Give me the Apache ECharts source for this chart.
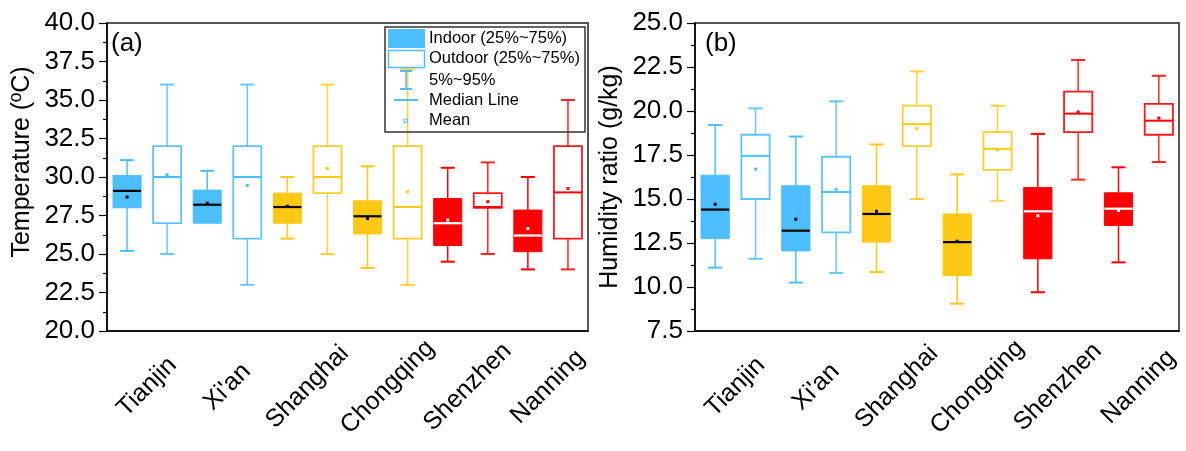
<!DOCTYPE html>
<html><head><meta charset="utf-8">
<script src="https://cdn.jsdelivr.net/npm/echarts@6/dist/echarts.min.js"></script>
<style>html,body{margin:0;padding:0;background:#fff}#c{width:1186px;height:451px}</style>
</head><body><div id="c"></div>
<script>
const cities = ['Tianjin', "Xi'an", 'Shanghai', 'Chongqing', 'Shenzhen', 'Nanning'];
// each row: [p5, p25, median, p75, p95, mean]
const tempIndoor = [
  [25.2, 28.0, 29.1, 30.1, 31.1, 28.7],
  [27.0, 27.0, 28.2, 29.15, 30.4, 28.3],
  [26.0, 27.0, 28.05, 28.95, 30.0, 28.1],
  [24.1, 26.3, 27.45, 28.45, 30.7, 27.3],
  [24.5, 25.55, 27.0, 28.6, 30.6, 27.2],
  [24.0, 25.15, 26.2, 27.85, 30.0, 26.65]
];
const tempOutdoor = [
  [25.0, 27.0, 30.0, 32.0, 36.0, 30.15],
  [23.0, 26.0, 30.0, 32.0, 36.0, 29.45],
  [25.0, 28.95, 30.0, 32.0, 36.0, 30.55],
  [23.0, 26.0, 28.05, 32.0, 37.0, 29.05],
  [25.0, 28.0, 28.05, 28.95, 30.95, 28.4],
  [24.0, 26.0, 29.0, 32.0, 35.0, 29.25]
];
const humIndoor = [
  [11.1, 12.75, 14.4, 16.35, 19.2, 14.7],
  [10.25, 12.05, 13.2, 15.75, 18.55, 13.85],
  [10.85, 12.55, 14.15, 15.75, 18.1, 14.3],
  [9.05, 10.65, 12.55, 14.15, 16.4, 12.6],
  [9.7, 11.6, 14.3, 15.65, 18.7, 14.05],
  [11.4, 13.5, 14.45, 15.35, 16.8, 14.35]
];
const humOutdoor = [
  [11.6, 15.0, 17.45, 18.65, 20.15, 16.7],
  [10.8, 13.1, 15.4, 17.4, 20.55, 15.55],
  [15.0, 18.0, 19.25, 20.3, 22.25, 19.0],
  [14.9, 16.65, 17.85, 18.8, 20.3, 17.8],
  [16.1, 18.8, 19.85, 21.1, 22.9, 19.95],
  [17.1, 18.65, 19.45, 20.4, 22.0, 19.6]
];
const tempAxis = {min: 20, max: 40, step: 2.5};
const humAxis = {min: 7.5, max: 25, step: 2.5};
const legendLabels = ['Indoor (25%~75%)', 'Outdoor (25%~75%)', '5%~95%', 'Median Line', 'Mean'];

const BLUE = '#4DBEFF', YELLOW = '#FFC814', RED = '#FF0000';
const cityColor = [BLUE, BLUE, YELLOW, YELLOW, RED, RED];
const FONT = '"Liberation Sans", Arial, sans-serif';

function makeRender(side, filled) {
  return function (params, api) {
    const i = api.value(0);
    const slot = api.size([1, 0])[0];
    const cx = api.coord([i, api.value(3)])[0] + side * slot / 4;
    const bw = slot * 0.35;
    const cap = bw * 0.5;
    const y = k => api.coord([i, api.value(k)])[1];
    const y5 = y(1), y25 = y(2), ym = y(3), y75 = y(4), y95 = y(5), ymean = y(6);
    const col = cityColor[i];
    const isRed = col === RED;
    const ls = {stroke: col, lineWidth: 1.5, opacity: filled ? 1 : 0.85};
    const ch = [];
    if (y5 - y25 > 0.5) {
      ch.push({type: 'line', shape: {x1: cx, y1: y25, x2: cx, y2: y5}, style: ls});
      ch.push({type: 'line', shape: {x1: cx - cap / 2, y1: y5, x2: cx + cap / 2, y2: y5}, style: Object.assign({}, ls, {lineWidth: 2})});
    }
    if (y75 - y95 > 0.5) {
      ch.push({type: 'line', shape: {x1: cx, y1: y95, x2: cx, y2: y75}, style: ls});
      ch.push({type: 'line', shape: {x1: cx - cap / 2, y1: y95, x2: cx + cap / 2, y2: y95}, style: Object.assign({}, ls, {lineWidth: 2})});
    }
    if (filled) {
      ch.push({type: 'rect', shape: {x: cx - bw / 2, y: y75, width: bw, height: y25 - y75},
        style: {fill: col, stroke: col, lineWidth: 1}});
    } else {
      ch.push({type: 'rect', shape: {x: cx - bw / 2, y: y75, width: bw, height: y25 - y75},
        style: {fill: 'none', stroke: col, lineWidth: 1.8, opacity: 0.9}});
    }
    const medCol = filled ? (isRed ? '#ffffff' : '#000000') : col;
    ch.push({type: 'line', shape: {x1: cx - bw / 2, y1: ym, x2: cx + bw / 2, y2: ym},
      style: {stroke: medCol, lineWidth: filled ? 2.2 : 2}});
    const mCol = filled ? (isRed ? '#ffffff' : '#000000') : col;
    ch.push({type: 'rect', shape: {x: cx - 1.5, y: ymean - 1.5, width: 3, height: 3},
      style: {fill: mCol}});
    return {type: 'group', children: ch};
  };
}

function toData(rows) { return rows.map((r, i) => [i].concat(r)); }

function yAxisDef(gi, ax, name, pad) {
  return {
    type: 'value', gridIndex: gi, min: ax.min, max: ax.max, interval: ax.step,
    name: name, nameLocation: 'middle', nameGap: 72,
    nameTextStyle: {fontFamily: FONT, fontSize: 25, color: '#000', padding: pad},
    axisLine: {show: true, lineStyle: {color: '#000', width: 1.5}},
    axisTick: {show: true, inside: false, length: 8, lineStyle: {color: '#000', width: 1.2}},
    minorTick: {show: true, splitNumber: 2, length: 4, lineStyle: {color: '#000', width: 1.2}},
    splitLine: {show: false},
    axisLabel: {fontFamily: FONT, fontSize: 26, color: '#000', margin: 12,
      formatter: v => v.toFixed(1)}
  };
}
function xAxisDef(gi) {
  return {
    type: 'category', gridIndex: gi, data: cities, boundaryGap: true,
    axisLine: {show: true, lineStyle: {color: '#000', width: 1.5}},
    axisTick: {show: false},
    splitLine: {show: false},
    axisLabel: {fontFamily: FONT, fontSize: 25, color: '#000', rotate: 45,
      align: 'center', verticalAlign: 'middle', margin: 56, interval: 0}
  };
}

const legendGraphics = [];
(function () {
  const lx = 385, ly = 27;
  legendGraphics.push({type: 'rect', shape: {x: lx, y: ly, width: 200, height: 105},
    style: {fill: 'none', stroke: '#333', lineWidth: 1.5}, z: 100});
  legendGraphics.push({type: 'rect', shape: {x: 388, y: 29, width: 37, height: 19}, style: {fill: BLUE}, z: 100});
  legendGraphics.push({type: 'rect', shape: {x: 388.5, y: 50.5, width: 36, height: 17},
    style: {fill: 'none', stroke: BLUE, lineWidth: 1.5}, z: 100});
  legendGraphics.push({type: 'line', shape: {x1: 406, y1: 71, x2: 406, y2: 89}, style: {stroke: BLUE, lineWidth: 1.5}, z: 100});
  legendGraphics.push({type: 'line', shape: {x1: 400, y1: 71, x2: 412, y2: 71}, style: {stroke: BLUE, lineWidth: 2}, z: 100});
  legendGraphics.push({type: 'line', shape: {x1: 400, y1: 89, x2: 412, y2: 89}, style: {stroke: BLUE, lineWidth: 2}, z: 100});
  legendGraphics.push({type: 'line', shape: {x1: 394, y1: 100, x2: 418, y2: 100}, style: {stroke: BLUE, lineWidth: 2}, z: 100});
  legendGraphics.push({type: 'rect', shape: {x: 404, y: 119, width: 3.5, height: 3.5},
    style: {fill: '#fff', stroke: BLUE, lineWidth: 1}, z: 100});
  const ys = [38, 58.5, 80, 100, 120.5];
  legendLabels.forEach((t, k) => legendGraphics.push({
    type: 'text', x: 429, y: ys[k], z: 100,
    style: {text: t, fontFamily: FONT, fontSize: 16.5, fill: '#000', verticalAlign: 'middle', align: 'left'}
  }));
})();

const chart = echarts.init(document.getElementById('c'), null, {renderer: 'canvas'});
chart.setOption({
  backgroundColor: '#fff',
  animation: false,
  grid: [
    {left: 107, top: 23, width: 481, height: 308, show: true, borderColor: '#555', borderWidth: 2, backgroundColor: 'transparent'},
    {left: 695, top: 23, width: 484, height: 308, show: true, borderColor: '#555', borderWidth: 2, backgroundColor: 'transparent'}
  ],
  xAxis: [xAxisDef(0), xAxisDef(1)],
  yAxis: [yAxisDef(0, tempAxis, 'Temperature (ºC)', [0, 0, 0, 30]), yAxisDef(1, humAxis, 'Humidity ratio (g/kg)', [0, 0, 0, 0])],
  series: [
    {type: 'custom', name: 'Indoor T', xAxisIndex: 0, yAxisIndex: 0, renderItem: makeRender(-1, true), data: toData(tempIndoor), encode: {x: 0, y: [1, 2, 3, 4, 5, 6]}},
    {type: 'custom', name: 'Outdoor T', xAxisIndex: 0, yAxisIndex: 0, renderItem: makeRender(1, false), data: toData(tempOutdoor), encode: {x: 0, y: [1, 2, 3, 4, 5, 6]}},
    {type: 'custom', name: 'Indoor H', xAxisIndex: 1, yAxisIndex: 1, renderItem: makeRender(-1, true), data: toData(humIndoor), encode: {x: 0, y: [1, 2, 3, 4, 5, 6]}},
    {type: 'custom', name: 'Outdoor H', xAxisIndex: 1, yAxisIndex: 1, renderItem: makeRender(1, false), data: toData(humOutdoor), encode: {x: 0, y: [1, 2, 3, 4, 5, 6]}}
  ],
  graphic: [
    {type: 'text', x: 111, y: 44, style: {text: '(a)', fontFamily: FONT, fontSize: 26, fill: '#000', verticalAlign: 'middle'}},
    {type: 'text', x: 705, y: 44, style: {text: '(b)', fontFamily: FONT, fontSize: 26, fill: '#000', verticalAlign: 'middle'}}
  ].concat(legendGraphics)
});
</script>
</body></html>
